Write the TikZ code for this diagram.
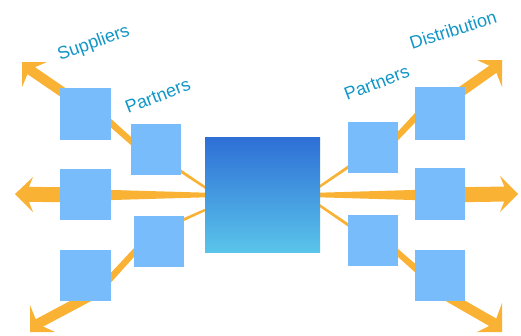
\documentclass[tikz,border=0pt]{standalone}
\usepackage{fontspec}
\setmainfont{Liberation Sans}
\usetikzlibrary{calc}
\definecolor{arr}{RGB}{250,178,52}
\definecolor{sq}{RGB}{120,188,252}
\definecolor{ctop}{RGB}{46,111,214}
\definecolor{cbot}{RGB}{90,196,234}
\definecolor{txt}{RGB}{18,150,200}
\newcommand\tseg[4]{\fill[arr] ($(#1)!#3!90:(#2)$) -- ($(#2)!#4!-90:(#1)$) -- ($(#2)!#4!90:(#1)$) -- ($(#1)!#3!-90:(#2)$) -- cycle;}
\newcommand\ahead[4]{\fill[arr] (#1) -- (#2) -- (#4) -- (#3) -- cycle;}
\tikzset{
  box/.style={fill=sq, draw=none, minimum width=51pt, minimum height=51pt, inner sep=0pt, outer sep=0pt},
  hub/.style={draw=none, top color=ctop, bottom color=cbot, minimum width=115pt, minimum height=115pt, inner sep=0pt, outer sep=0pt},
  lbl/.style={text=txt, font=\fontsize{18}{18}\selectfont, inner sep=0pt, anchor=base west},
}
\begin{document}
\begin{tikzpicture}[x=1pt,y=-1pt]
\useasboundingbox (0,0) rectangle (521,335);
% --- coordinates ---
% top left
\coordinate (a1) at (206,188); \coordinate (a2) at (170,164);
\coordinate (a3) at (150,158); \coordinate (a4) at (95,109);
\coordinate (a5) at (80,104);  \coordinate (aN) at (29.5,69.5);
\coordinate (aT) at (22,62); \coordinate (aB1) at (47,62); \coordinate (aB2) at (22,87);
% middle left
\coordinate (b1) at (206,195); \coordinate (b2) at (85,195);
\coordinate (bN) at (26,194.3);
\coordinate (bT) at (15,194); \coordinate (bB1) at (33,177); \coordinate (bB2) at (33,212);
% bottom left
\coordinate (c1) at (205,210); \coordinate (c2) at (165,228);
\coordinate (c3) at (150,235); \coordinate (c4) at (95,295);
\coordinate (c5) at (90,296);  \coordinate (cN) at (37.5,323.9);
\coordinate (cT) at (30,332); \coordinate (cB1) at (30,305); \coordinate (cB2) at (55,332);
% top right
\coordinate (d1) at (319,187); \coordinate (d2) at (360,159);
\coordinate (d3) at (380,155); \coordinate (d4) at (430,102);
\coordinate (d5) at (445,103); \coordinate (dN) at (494.5,68.1);
\coordinate (dT) at (502,60); \coordinate (dB1) at (477,60); \coordinate (dB2) at (502,87);
% middle right
\coordinate (e1) at (319,195); \coordinate (e2) at (440,195);
\coordinate (eN) at (507.2,194);
\coordinate (eT) at (518,194); \coordinate (eB1) at (500,176); \coordinate (eB2) at (500,212);
% bottom right
\coordinate (f1) at (319,205); \coordinate (f2) at (360,233);
\coordinate (f3) at (380,237); \coordinate (f4) at (440,290);
\coordinate (f5) at (440,292); \coordinate (fN) at (494.5,323.3);
\coordinate (fT) at (502,332); \coordinate (fB1) at (502,303); \coordinate (fB2) at (477,332);
% --- arrows ---
\tseg{a1}{a2}{1.2pt}{1.6pt} \tseg{a3}{a4}{2.8pt}{3.5pt} \tseg{a5}{aN}{5pt}{5pt} \ahead{aT}{aB1}{aB2}{aN}
\tseg{b1}{b2}{2.3pt}{5.8pt} \tseg{b2}{bN}{7.5pt}{7.5pt} \ahead{bT}{bB1}{bB2}{bN}
\tseg{c1}{c2}{1.2pt}{1.6pt} \tseg{c3}{c4}{2.8pt}{3.5pt} \tseg{c5}{cN}{5pt}{5pt} \ahead{cT}{cB1}{cB2}{cN}
\tseg{d1}{d2}{1.2pt}{1.6pt} \tseg{d3}{d4}{2.8pt}{3.5pt} \tseg{d5}{dN}{5pt}{5pt} \ahead{dT}{dB1}{dB2}{dN}
\tseg{e1}{e2}{2.3pt}{5.8pt} \tseg{e2}{eN}{7.5pt}{7.5pt} \ahead{eT}{eB1}{eB2}{eN}
\tseg{f1}{f2}{1.2pt}{1.6pt} \tseg{f3}{f4}{2.8pt}{3.5pt} \tseg{f5}{fN}{5pt}{5pt} \ahead{fT}{fB1}{fB2}{fN}
% --- squares ---
\node[box, minimum height=52pt] (lo1) at (85.5,114) {};
\node[box] (lo2) at (85.5,194.5) {};
\node[box] (lo3) at (85.5,275.5) {};
\node[box, minimum width=50pt] (li1) at (156,149.5) {};
\node[box, minimum width=50pt] (li2) at (159,241.5) {};
\node[box, minimum width=50pt] (ri1) at (373,147) {};
\node[box, minimum width=50pt] (ri2) at (373,240.5) {};
\node[box, minimum width=50pt, minimum height=53pt] (ro1) at (440,113.5) {};
\node[box, minimum width=50pt, minimum height=52pt] (ro2) at (440,194) {};
\node[box, minimum width=50pt] (ro3) at (440,275.5) {};
\node[hub] (hub) at (262.5,194.5) {};
% --- labels ---
\node[lbl, rotate=20] (sup) at (60,61) {Suppliers};
\node[lbl, rotate=21] (lp) at (128,114) {Partners};
\node[lbl, rotate=21] (rp) at (347,101) {Partners};
\node[lbl, rotate=18] (dist) at (412,50) {Distribution};
\end{tikzpicture}
\end{document}
